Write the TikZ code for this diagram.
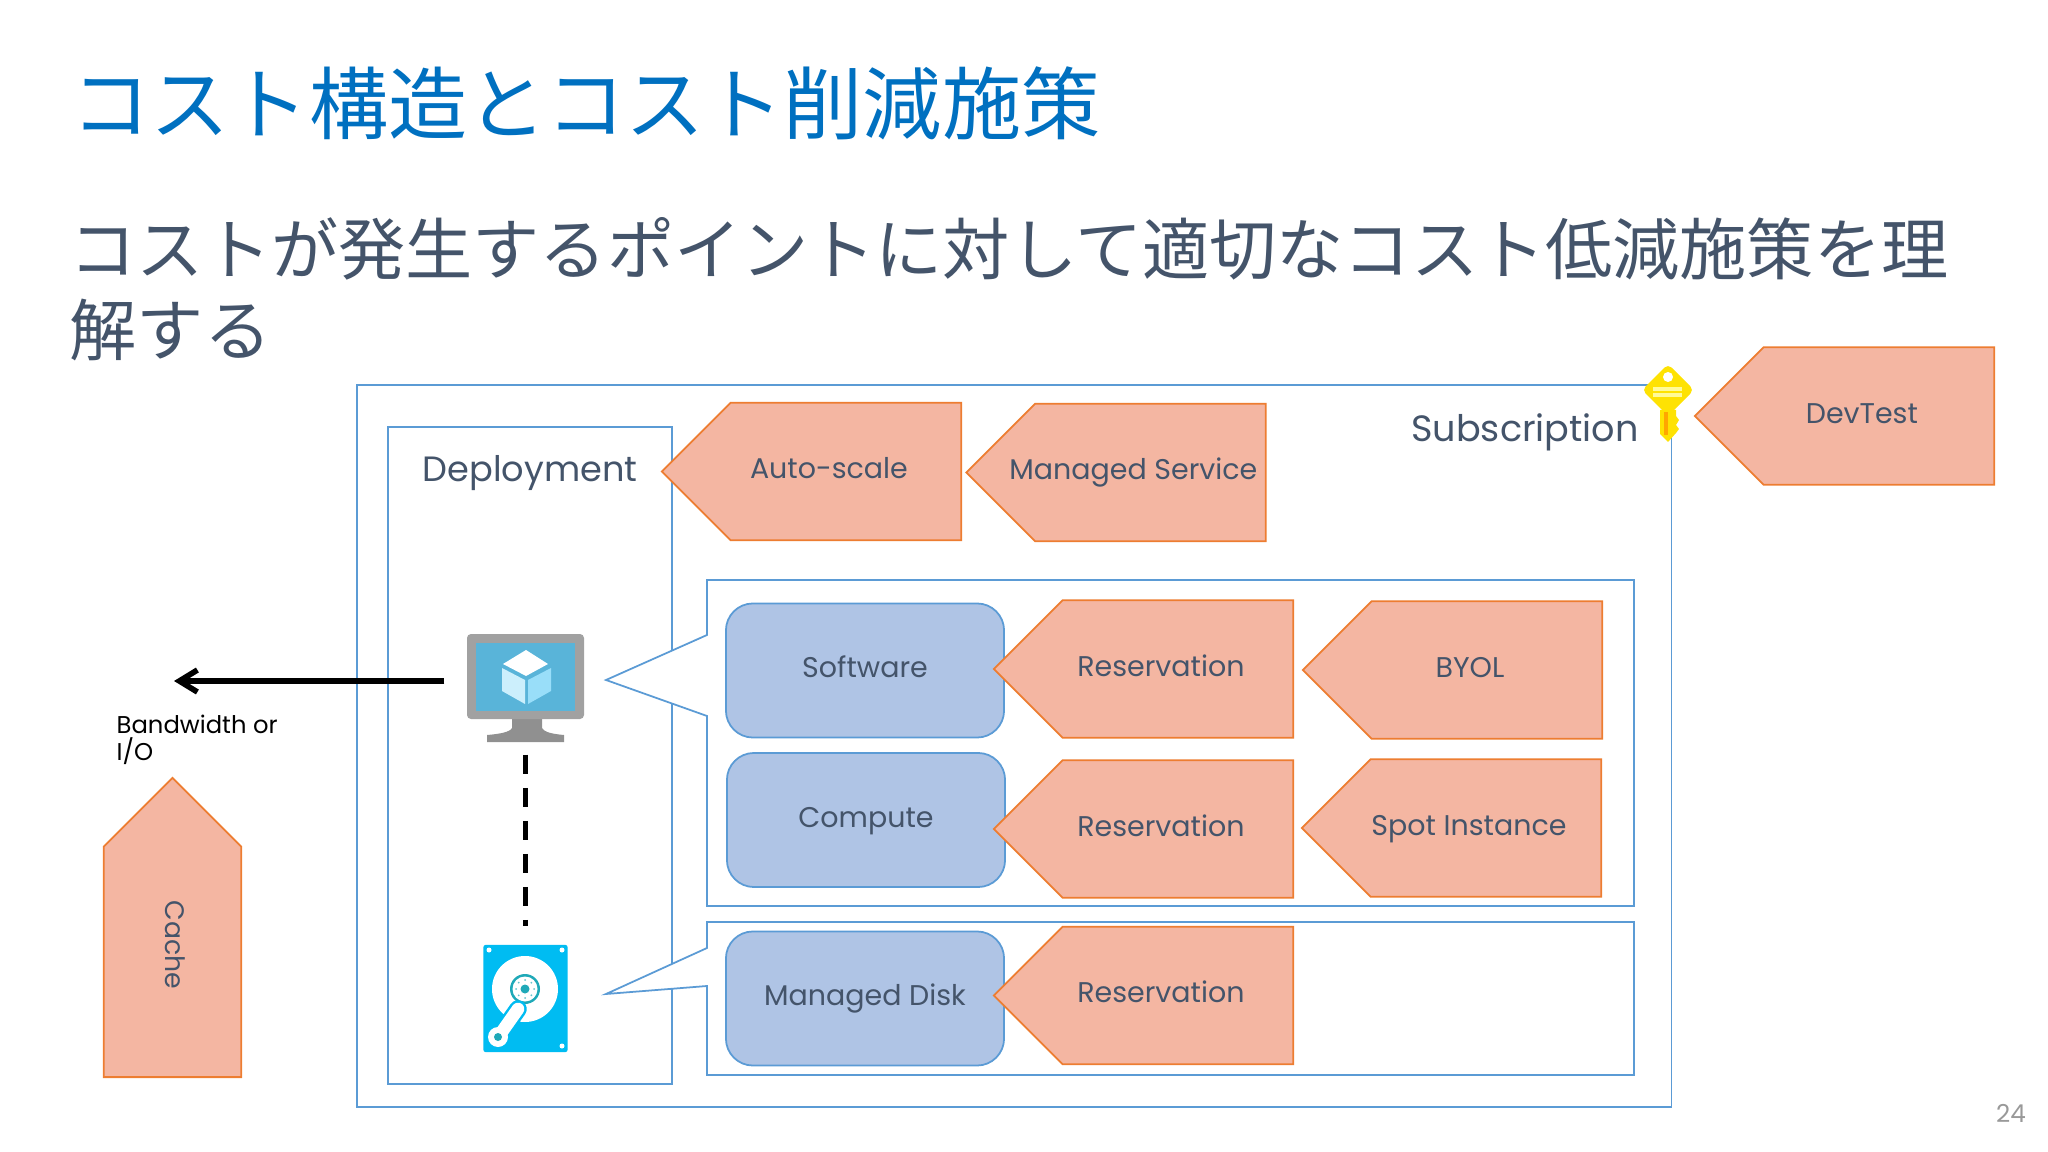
\documentclass[tikz,border=0pt]{standalone}
\usepackage{fontspec}
\setmainfont{Poppins}
\newfontfamily\jpfont{Noto Sans CJK JP}
\usetikzlibrary{arrows.meta, positioning, shapes.symbols}
\definecolor{slate}{HTML}{44546A}
\definecolor{azure}{HTML}{0070C0}
\definecolor{frame}{HTML}{5B9BD5}
\definecolor{peach}{HTML}{F4B6A2}
\definecolor{ember}{HTML}{ED7D31}
\definecolor{sky}{HTML}{AFC4E5}
\definecolor{screen}{HTML}{59B4D9}
\definecolor{platter}{HTML}{00BCF2}
\definecolor{spindle}{HTML}{1FA9B8}
\newcommand{\taglabel}[1]{\makebox[0pt]{\kern-0.34cm #1}}

\begin{document}
\begin{tikzpicture}[
    x=0.01cm, y=-0.01cm,
    plainbox/.style={draw=frame, line width=0.5pt, fill=white, minimum width=#1},
    groupbox/.style={draw=frame, line width=0.5pt, fill=white},
    layerbox/.style={draw=frame, line width=0.5pt, fill=sky, rounded corners=0.27cm,
                     minimum width=2.78cm, minimum height=1.34cm,
                     text height=6.2pt, text depth=2pt,
                     text=slate, font=\fontsize{8.1}{10}\selectfont},
    costtag/.style={signal, signal to=west, signal pointer angle=90,
                    draw=ember, line width=0.5pt, fill=peach, inner sep=0pt,
                    minimum width=2.99cm, minimum height=1.375cm, anchor=east,
                    text height=6.2pt, text depth=2pt,
                    text=slate, font=\fontsize{8.1}{10}\selectfont},
    caption/.style={text=slate, font=\fontsize{10}{12}\selectfont, inner sep=0pt},
    flow/.style={-{Straight Barb[length=1.8mm, width=2.2mm]}, line width=1.6pt, black},
    link/.style={line width=1.5pt, black, dash pattern=on 0.19cm off 0.14cm},
]
    \useasboundingbox (0,0) rectangle (2048,1152);

    % Heading
    \node[anchor=west, inner sep=0pt, text=azure, font=\jpfont\fontsize{22.5}{26}\selectfont]
        (heading) at (71,103) {コスト構造とコスト削減施策};
    \node[anchor=north west, inner sep=0pt, align=left, text=slate, font=\jpfont\fontsize{19.1}{23.04}\selectfont]
        (lead) at (69,217) {コストが発生するポイントに対して適切なコスト低減施策を理\\解する};

    % Outer frames
    \node[plainbox=13.14cm, minimum height=7.22cm] (subscription) at (1014,746) {};
    \node[plainbox=2.84cm, minimum height=6.57cm] (deployment) at (530,755.5) {};
    \node[caption, font=\fontsize{10.4}{12}\selectfont] (subscriptionlabel) at (1525,432) {Subscription};
    \node[caption] (deploymentlabel) at (530,473) {Deployment};

    % Groups with their callouts
    \draw[groupbox] (707,580) -- (1634,580) -- (1634,906) -- (707,906) -- (707,716) -- (606,680) -- (707,635) -- cycle;
    \draw[groupbox] (707,922) -- (1634,922) -- (1634,1075) -- (707,1075) -- (707,986) -- (606,994) -- (707,948) -- cycle;

    % Layers
    \node[layerbox] (software) at (865,670.5) {Software};
    \node[layerbox] (compute) at (866,820) {Compute};
    \node[layerbox] (disklayer) at (865,998.5) {Managed Disk};

    % Cost measures
    \node[costtag] (autoscale) at (962,471.5) {\taglabel{Auto-scale}};
    \node[costtag] (managed) at (1266.5,472.5) {\taglabel{Managed Service}};
    \node[costtag] (reservationa) at (1294,669) {\taglabel{Reservation}};
    \node[costtag] (byol) at (1603,670) {\taglabel{BYOL}};
    \node[costtag] (reservationb) at (1294,829) {\taglabel{Reservation}};
    \node[costtag] (spot) at (1602,828) {\taglabel{Spot Instance}};
    \node[costtag] (reservationc) at (1294,995.5) {\taglabel{Reservation}};
    \node[costtag] (devtest) at (1995,416) {\taglabel{DevTest}};
    \node[costtag, rotate=-90, font=\fontsize{7.6}{10}\selectfont] (cache) at (172.5,1078) {\taglabel{Cache}};

    % VM icon
    \node[minimum width=1.17cm, minimum height=1.08cm, inner sep=0pt] (vm) at (525.5,688) {};
    \fill[gray!75!black!70] (512,718) -- (542,718) -- (542,728) .. controls (544,732) and (552,734) .. (564,735) -- (564,742) -- (487,742) -- (487,735) .. controls (500,734) and (510,732) .. (512,728) -- cycle;
    \fill[black!37, rounded corners=0.04cm] (467,634) rectangle (584,719);
    \fill[screen] (476,643) rectangle (575,711);
    \fill[white] (526,650) -- (548,664) -- (526,676) -- (503,664) -- cycle;
    \fill[cyan!20!white] (502,668) -- (525,680) -- (525,704) -- (502,691) -- cycle;
    \fill[cyan!40!white] (528,680) -- (551,668) -- (551,691) -- (528,704) -- cycle;

    % Disk icon
    \node[fill=platter, rounded corners=0.02cm, minimum width=0.84cm, minimum height=1.07cm, inner sep=0pt] (disk) at (525.5,998.5) {};
    \fill[white] (525,989) circle (33);
    \fill[spindle] (525,989) circle (15);
    \fill[white] (525,989) circle (12.5);
    \fill[spindle] (525,989) circle (4.5);
    \foreach \ang in {0,45,...,315} {
        \fill[spindle!70] (525,989) ++(\ang:9) circle (1);
    }
    \draw[platter, line width=5pt, line cap=round] (518,1009) -- (499,1036);
    \draw[white, line width=3.6pt, line cap=round] (518,1009) -- (499,1036);
    \fill[white] (498,1037) circle (10);
    \fill[spindle] (498,1037) circle (4);
    \foreach \px/\py in {489/950, 562/950, 562/1046} {
        \fill[white] (\px,\py) circle (2.5);
    }

    % Connectors
    \coordinate (outside) at (174,681);
    \draw[flow, shorten <=0.22cm] (vm.west |- outside) -- (outside);
    \draw[link, shorten <=0.12cm, shorten >=0.18cm] (vm.south) -- (disk.north);

    % Key
    \fill[yellow!85!orange, rounded corners=0.05cm] (1668,364) -- (1694,390) -- (1668,416) -- (1642,390) -- cycle;
    \fill[yellow!85!orange] (1660,410) -- (1676,410) -- (1676,416) -- (1679,420) -- (1676,425) -- (1679,429) -- (1676,433) -- (1668,442) -- (1660,434) -- cycle;
    \fill[orange!70!yellow] (1664,412) rectangle (1668,435);
    \fill[white] (1668,377) circle (5);
    \fill[yellow!40!white] (1653,387) rectangle (1682,391);
    \fill[yellow!40!white] (1653,393) rectangle (1682,397);

    % Annotations
    \node[anchor=west, align=left, inner sep=0pt, font=\fontsize{6.9}{7.7}\selectfont] (bandwidth) at (116,739.5) {Bandwidth or\\I/O};
    \node[text=black!40, inner sep=0pt, font=\fontsize{7}{9}\selectfont] (pagenum) at (2011,1113) {24};
\end{tikzpicture}
\end{document}
